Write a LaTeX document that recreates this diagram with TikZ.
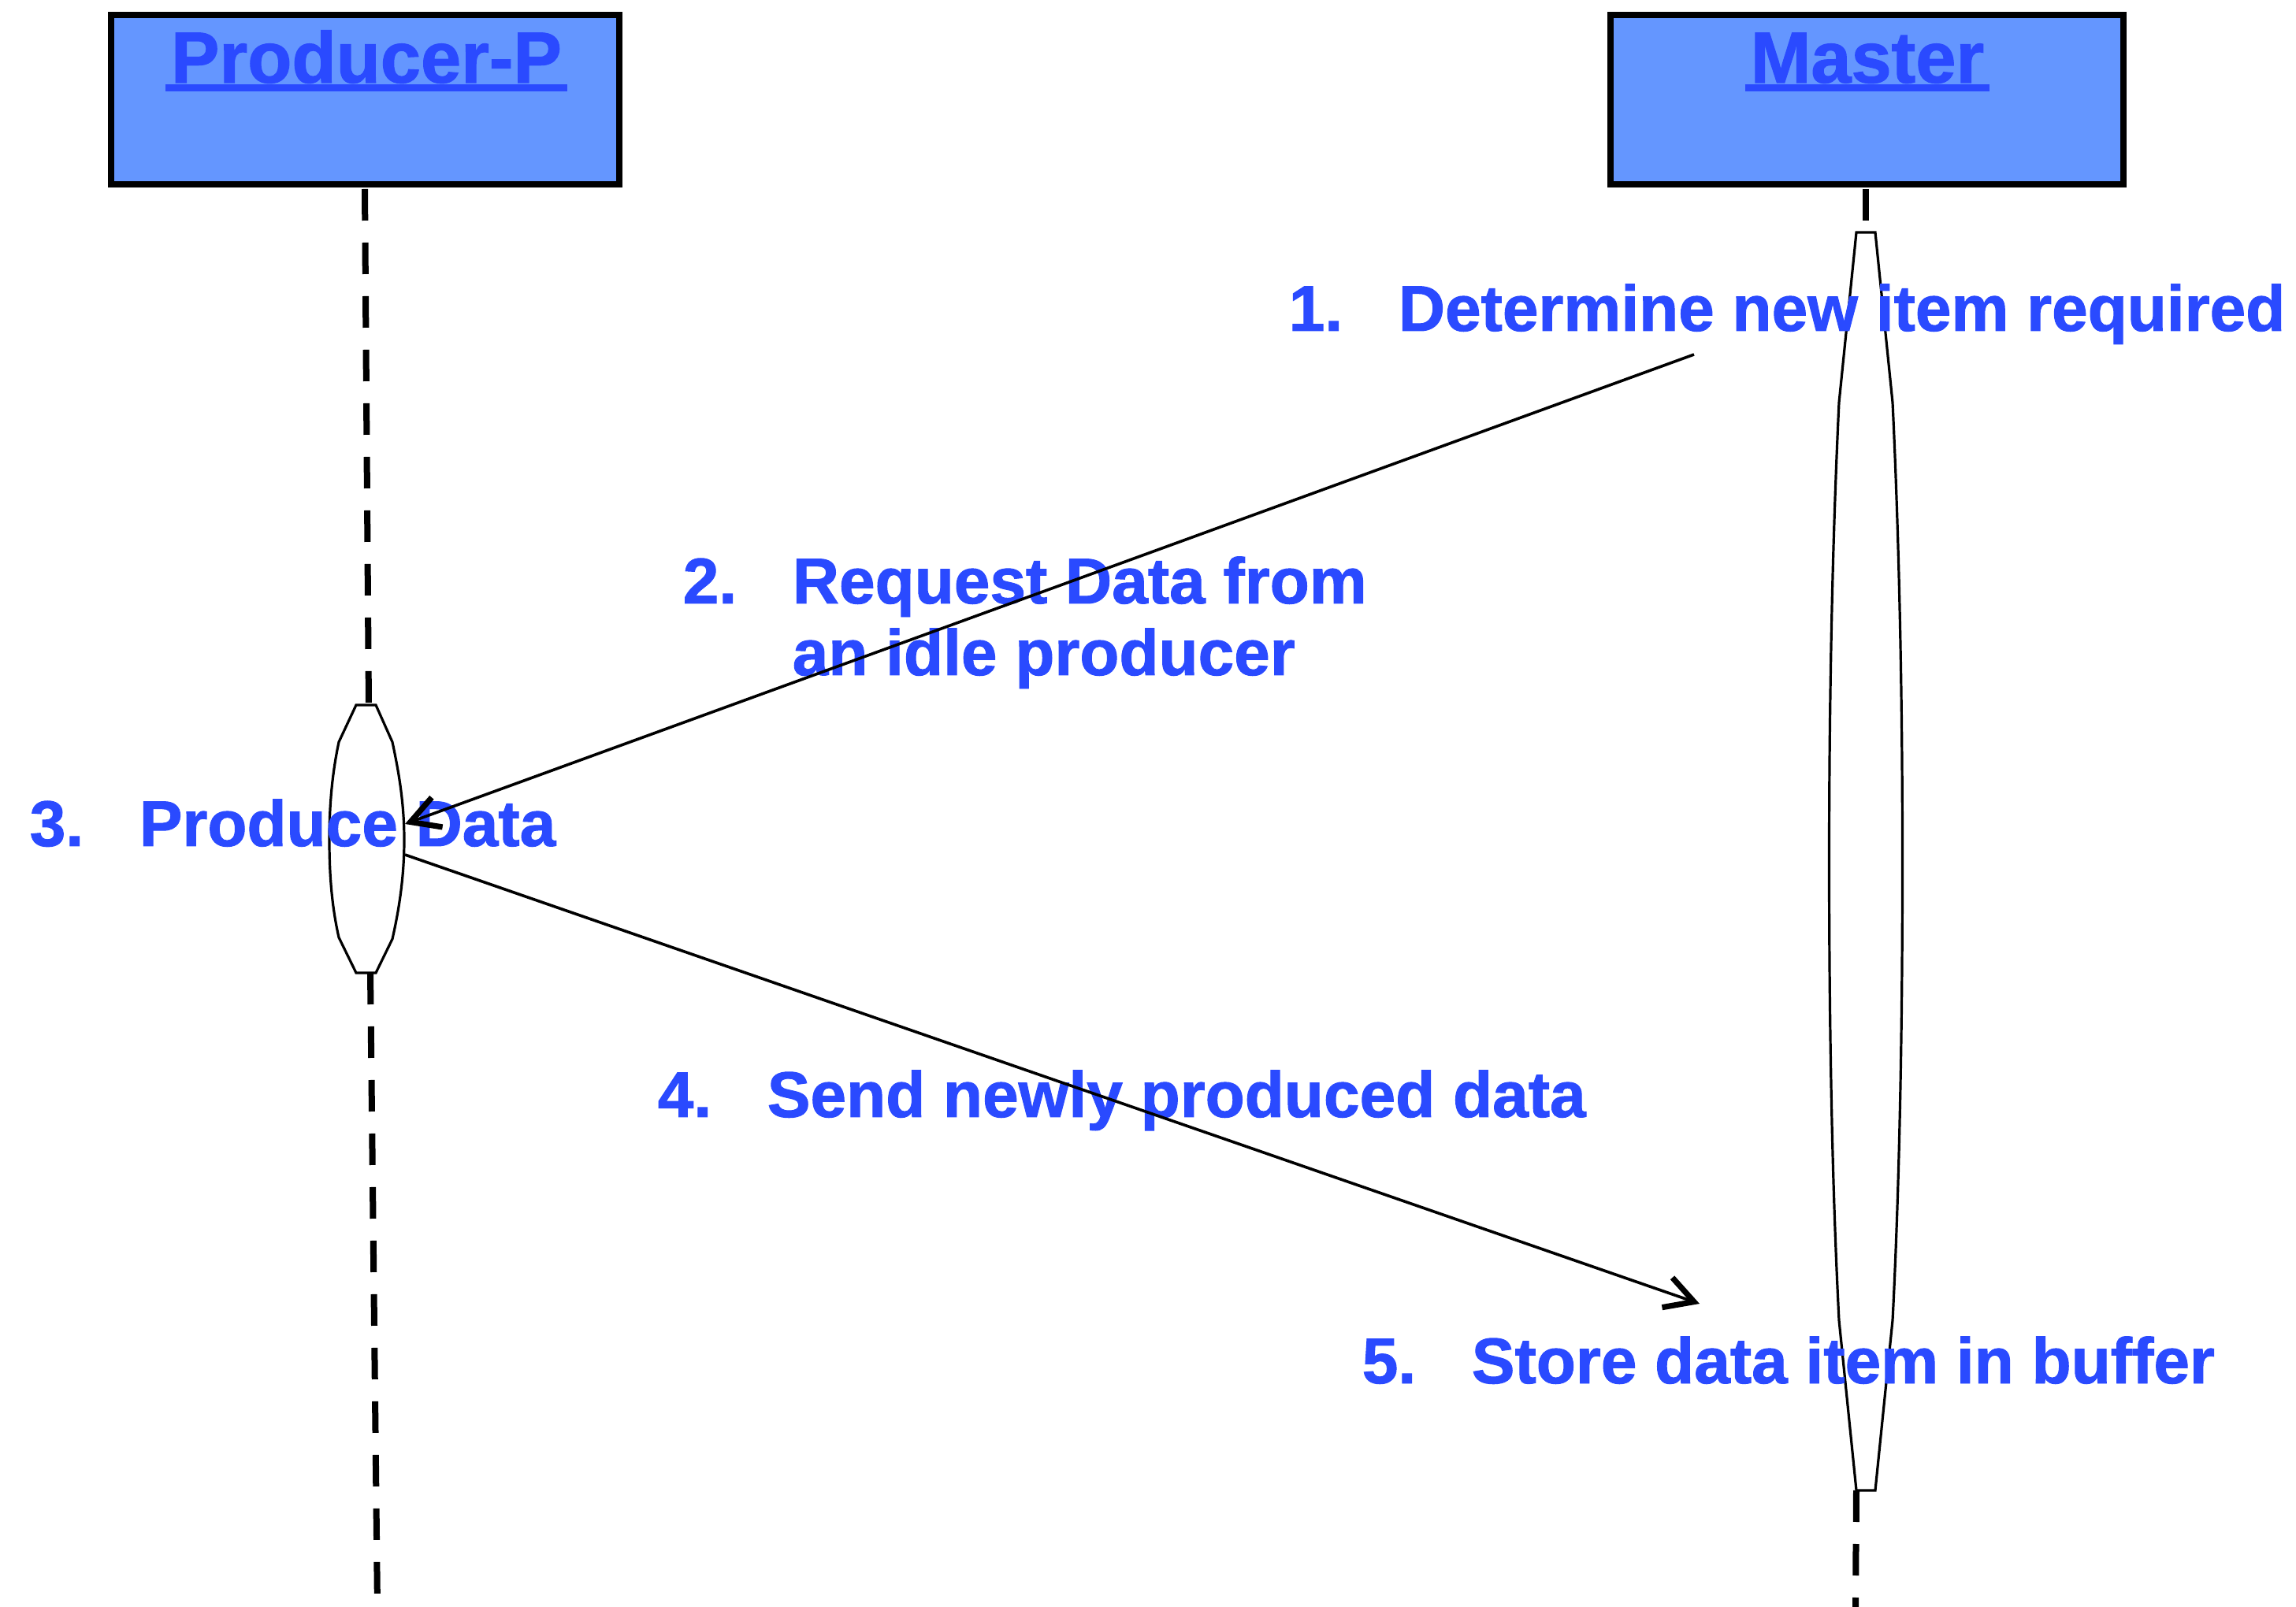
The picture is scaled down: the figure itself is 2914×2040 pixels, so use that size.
\documentclass[tikz,border=0pt]{standalone}
\usepackage{fontspec}
\setmainfont{Liberation Sans}[BoldFeatures={FakeBold=1.2}]
\usetikzlibrary{arrows.meta}
\definecolor{txtblue}{RGB}{42,74,255}
\definecolor{boxblue}{RGB}{100,150,255}
\begin{document}
\begin{tikzpicture}[x=0.25pt,y=-0.25pt,
  headbox/.style={draw=black, line width=2.2pt, fill=boxblue, rectangle, inner sep=0pt, minimum height=53.75pt},
  headtext/.style={text=txtblue, font=\fontsize{23}{27}\selectfont\bfseries, inner sep=0pt, anchor=base},
  uline/.style={draw=txtblue, line width=2.4pt},
  lifeline/.style={draw=black, line width=2pt, dash pattern=on 10pt off 7pt},
  actbar/.style={draw=black, line width=0.8pt, fill=white},
  msgline/.style={draw=black, line width=0.9pt, -{Straight Barb[length=9pt,width=10pt,line width=1.8pt]}},
  steplabel/.style={text=txtblue, font=\fontsize{20.5}{22.75}\selectfont\bfseries, inner sep=0pt, anchor=base west}
]
\useasboundingbox (0,0) rectangle (2914,2040);

% header boxes
\node[headbox, minimum width=161.25pt] (pbox) at (463.5,126.5) {};
\node[headbox, minimum width=162.75pt] (mbox) at (2369.5,126.5) {};
\node[headtext] (ptitle) at (465,105) {Producer-P};
\node[headtext] (mtitle) at (2370,105) {Master};
\draw[uline] ([yshift=-1.6pt,xshift=-1.5pt]ptitle.base west) -- ([yshift=-1.6pt,xshift=1.5pt]ptitle.base east);
\draw[uline] ([yshift=-1.6pt,xshift=-1.5pt]mtitle.base west) -- ([yshift=-1.6pt,xshift=1.5pt]mtitle.base east);

% lifeline anchor points
\coordinate (ptop) at (463,240);
\coordinate (pacttop) at (468,895);
\coordinate (pactbot) at (470,1235);
\coordinate (pend) at (479,2040);
\coordinate (mtop) at (2368,240);
\coordinate (macttop) at (2368,295);
\coordinate (mactbot) at (2356,1892);
\coordinate (mend) at (2355,2040);

\draw[lifeline] (ptop) -- (pacttop);
\draw[lifeline] (pactbot) -- (pend);
\draw[lifeline] (mtop) -- (macttop);
\draw[lifeline] (mactbot) -- (mend);

% activation bars
\draw[actbar] (452,895) -- (430,942) .. controls (421,985) and (418,1025) .. (418,1066)
  .. controls (418,1110) and (421,1150) .. (430,1190) -- (452,1235) -- (477,1235) -- (498,1192)
  .. controls (507,1152) and (513,1112) .. (513,1066) .. controls (513,1022) and (507,984) .. (498,942)
  -- (477,895) -- cycle;
\draw[actbar] (2356,295) -- (2334,511) .. controls (2325,700) and (2321.5,900) .. (2321.5,1093)
  .. controls (2321.5,1300) and (2325,1500) .. (2334,1676) -- (2356,1892)
  -- (2380,1892) -- (2402,1676) .. controls (2411,1500) and (2414.5,1300) .. (2414.5,1093)
  .. controls (2414.5,900) and (2411,700) .. (2402,511) -- (2380,295) -- cycle;

% labels
\node[steplabel] (l1) at (1635,420) {\makebox[34.75pt][l]{1.}Determine new item required};
\node[steplabel] (l2) at (866,766) {\makebox[34.75pt][l]{2.}\parbox[t]{200pt}{Request Data from\\an idle producer}};
\node[steplabel] (l3) at (37,1074) {\makebox[34.75pt][l]{3.}Produce Data};
\node[steplabel] (l4) at (834,1418) {\makebox[34.75pt][l]{4.}Send newly produced data};
\node[steplabel] (l5) at (1728,1756) {\makebox[34.75pt][l]{5.}Store data item in buffer};

% messages
\coordinate (m2start) at (2150,450);
\coordinate (p2end) at (514,1046);
\coordinate (p4start) at (514,1085);
\coordinate (m4end) at (2157,1655);
\draw[msgline] (m2start) -- (p2end);
\draw[msgline] (p4start) -- (m4end);
\end{tikzpicture}
\end{document}
